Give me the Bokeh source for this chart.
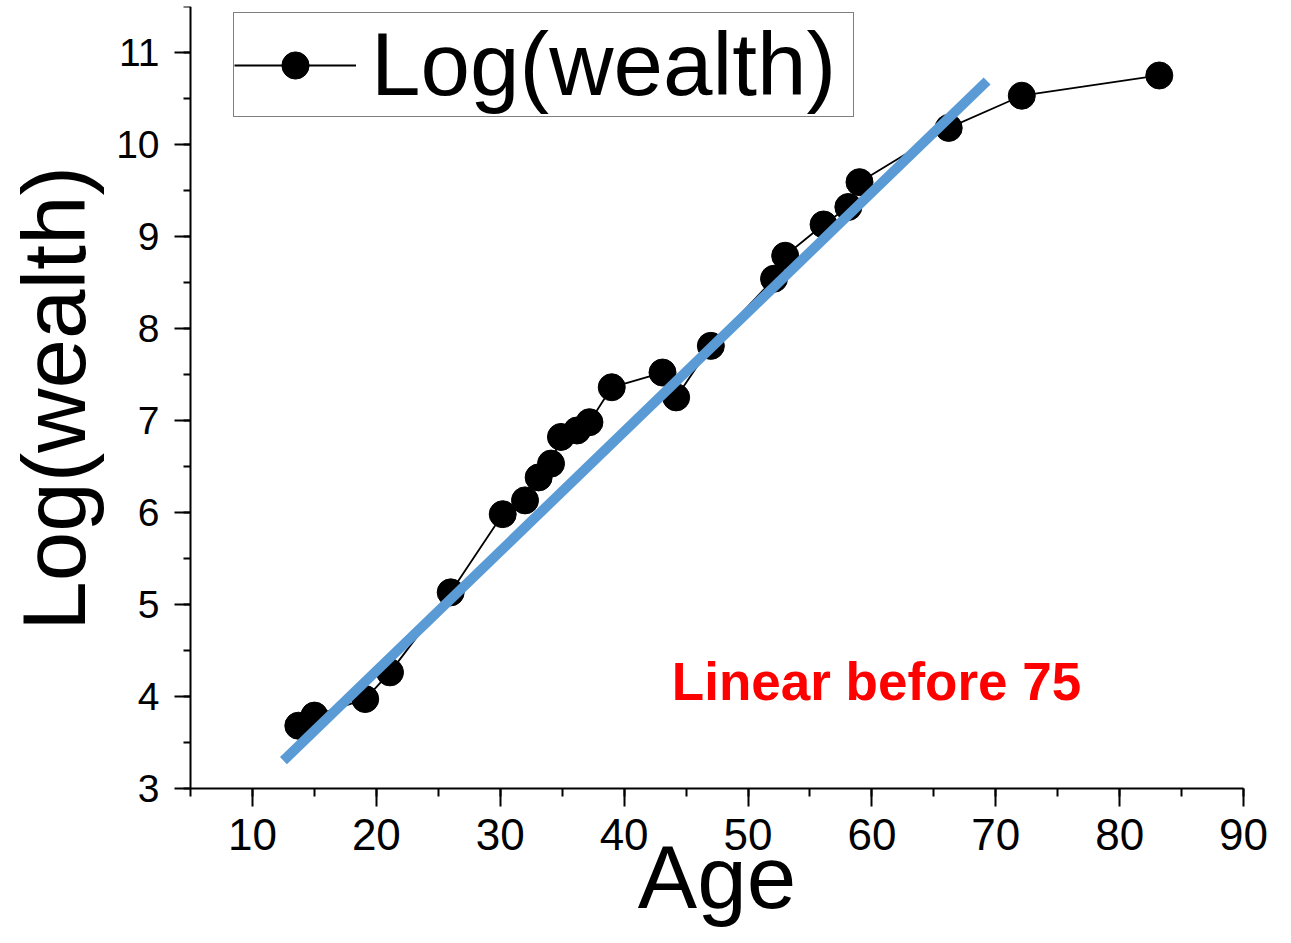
import math
from bokeh.plotting import figure
from bokeh.models import Range1d, SingleIntervalTicker, Label, Legend, LegendItem
from bokeh.embed import file_html
from bokeh.resources import INLINE

# Data
age = [13.7, 15.0, 19.1, 21.1, 26.0, 30.2, 32.0, 33.1, 34.1, 34.9, 36.2, 37.2,
       39.0, 43.1, 44.2, 47.0, 52.1, 53.0, 56.1, 58.1, 59.0, 66.2, 72.1, 83.2]
log_wealth = [3.68, 3.79, 3.97, 4.26, 5.13, 5.98, 6.13, 6.38, 6.53, 6.82, 6.89, 6.98,
              7.36, 7.52, 7.25, 7.81, 8.54, 8.79, 9.13, 9.32, 9.59, 10.18, 10.53, 10.75]
fit_age = [12.5, 69.3]
fit_log_wealth = [3.30, 10.69]
x_axis_span = (5, 90)
y_axis_span = (3, 11.5)

FONT = "Liberation Sans"

# The frame fills the page; the axes are pinned at x=5 / y=3 so that their
# titles have room (the reference crops the bottom of "Age").
p = figure(width=1275, height=927,
           x_range=Range1d(-10.34, 92.58), y_range=Range1d(1.486, 11.5),
           output_backend="svg", toolbar_location=None,
           min_border_left=0, min_border_right=0,
           min_border_top=6, min_border_bottom=0)
p.outline_line_color = None
p.xgrid.visible = False
p.ygrid.visible = False
p.background_fill_color = "white"
p.border_fill_color = "white"

line_r = p.line(age, log_wealth, line_color="black", line_width=1.8)
pts_r = p.scatter(age, log_wealth, size=27, fill_color="black", line_color="black")
p.line(fit_age, fit_log_wealth, line_color="#5B9BD5", line_width=10)

# axes
p.xaxis.ticker = SingleIntervalTicker(interval=10, num_minor_ticks=2)
p.yaxis.ticker = SingleIntervalTicker(interval=1, num_minor_ticks=2)
for ax in (p.xaxis[0], p.yaxis[0]):
    ax.axis_line_width = 2
    ax.axis_line_color = "black"
    ax.major_tick_line_width = 2
    ax.minor_tick_line_width = 2
    ax.major_tick_line_color = "black"
    ax.minor_tick_line_color = "black"
    ax.major_tick_in = 0
    ax.minor_tick_in = 0
    ax.major_label_text_font = FONT
    ax.major_label_text_color = "black"

p.xaxis.fixed_location = y_axis_span[0]
p.xaxis.bounds = x_axis_span
p.xaxis.major_tick_out = 18
p.xaxis.minor_tick_out = 8
p.xaxis.major_label_text_font_size = "44px"
p.xaxis.major_label_standoff = 13

p.yaxis.fixed_location = x_axis_span[0]
p.yaxis.bounds = y_axis_span
p.yaxis.major_tick_out = 16
p.yaxis.minor_tick_out = 7
p.yaxis.major_label_text_font_size = "39px"
p.yaxis.major_label_standoff = 15

# axis titles
x_title = Label(x=47.5, y=2.04, text="Age",
                text_font=FONT, text_font_size="89px", text_color="black",
                text_align="center", text_baseline="middle")
p.add_layout(x_title)
y_title = Label(x=53, x_units="screen", y=7.24, text="Log(wealth)", angle=math.pi / 2,
                text_font=FONT, text_font_size="89px", text_color="black",
                text_align="center", text_baseline="middle")
p.add_layout(y_title)

legend = Legend(items=[LegendItem(label="Log(wealth)", renderers=[line_r, pts_r])],
                location=(233, 810))
legend.border_line_color = "black"
legend.border_line_width = 1
legend.background_fill_color = "white"
legend.background_fill_alpha = 1.0
legend.label_text_font = FONT
legend.label_text_font_size = "89px"
legend.label_text_color = "black"
legend.glyph_width = 122
legend.glyph_height = 68
legend.label_standoff = 15
legend.label_width = 482
legend.padding = 0
legend.spacing = 0
legend.margin = 0
p.add_layout(legend)

note = Label(x=43.85, y=4.16, text="Linear before 75", text_color="#FF0000",
             text_font=FONT, text_font_size="53px", text_font_style="bold",
             text_baseline="middle", text_align="left")
p.add_layout(note)

open("out.html", "w").write(file_html(p, INLINE))
